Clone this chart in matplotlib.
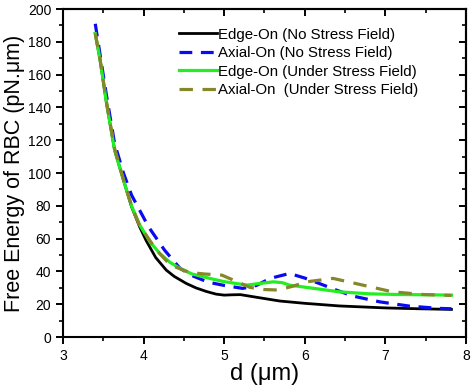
import matplotlib
matplotlib.use("Agg")
import matplotlib.pyplot as plt
from matplotlib.ticker import MultipleLocator

plt.rcParams['font.family'] = ['Liberation Sans', 'DejaVu Sans']

# Edge-On (No Stress Field)
x_edge = [3.40, 3.46, 3.54, 3.64, 3.75, 3.85, 3.95, 4.03, 4.15, 4.28, 4.38, 4.53, 4.65, 4.78,
          4.90, 5.00, 5.10, 5.20, 5.40, 5.69, 6.00, 6.43, 7.00, 7.40, 7.82]
y_edge = [185, 169, 142.5, 114, 95.7, 79.5, 67.3, 59, 48.5, 40.9, 37, 32.7, 30, 27.8,
          26.2, 25.6, 25.8, 25.9, 24.3, 22.0, 20.6, 19.0, 17.8, 17.3, 16.9]

# Axial-On (No Stress Field)
x_axial = [3.40, 3.46, 3.54, 3.64, 3.75, 3.85, 4.06, 4.26, 4.45, 4.60, 4.80, 5.00, 5.23, 5.40,
           5.57, 5.81, 6.00, 6.18, 6.40, 6.60, 6.93, 7.30, 7.67, 7.82]
y_axial = [191, 172, 147, 118, 100, 86.6, 67.3, 53, 42, 37.5, 33.5, 31.5, 29.7, 31.5,
           35.8, 38.8, 36, 32.7, 28.5, 25, 21.5, 18.9, 17.5, 17.3]

# Edge-On (Under Stress Field)
x_edge_s = [3.40, 3.46, 3.54, 3.64, 3.75, 3.85, 3.95, 4.08, 4.20, 4.33, 4.45, 4.60, 4.82, 5.00,
            5.28, 5.44, 5.61, 5.72, 5.81, 6.10, 6.43, 6.80, 7.13, 7.50, 7.82]
y_edge_s = [185, 169, 142.5, 114, 95.7, 80, 68.5, 58, 51, 45.5, 41.9, 38.5, 35.8, 33.8,
            31.7, 32.7, 33.7, 33.2, 31.7, 29.8, 27.6, 26.4, 26, 25.8, 25.6]

# Axial-On (Under Stress Field)
x_axial_s = [3.40, 3.46, 3.54, 3.64, 3.75, 3.85, 3.95, 4.16, 4.33, 4.57, 4.75, 4.97, 5.15, 5.32,
             5.50, 5.67, 5.85, 6.02, 6.35, 6.72, 7.09, 7.46, 7.82]
y_axial_s = [185, 169, 143, 115, 96, 80, 68, 53, 44, 39.4, 38.5, 37.8, 34, 30.3,
             29, 28.7, 31, 33.7, 35.8, 31.7, 27.6, 26, 25.4]

labels = ['Edge-On (No Stress Field)', 'Axial-On (No Stress Field)',
          'Edge-On (Under Stress Field)', 'Axial-On  (Under Stress Field)']

fig = plt.figure(figsize=(4.74, 3.92), dpi=100)
ax = fig.add_axes([0.133, 0.140, 0.850, 0.837])

ax.plot(x_edge, y_edge, color='black', lw=2.0, label=labels[0])
ax.plot(x_axial, y_axial, color='#0a0af0', lw=2.3, dashes=(4, 2.7), label=labels[1])
ax.plot(x_edge_s, y_edge_s, color='#22ee22', lw=2.3, label=labels[2])
ax.plot(x_axial_s, y_axial_s, color='#86862a', lw=2.3, dashes=(4.2, 3), label=labels[3])

ax.set_xlim(3, 8)
ax.set_ylim(0, 200)
ax.xaxis.set_major_locator(MultipleLocator(1))
ax.xaxis.set_minor_locator(MultipleLocator(0.5))
ax.yaxis.set_major_locator(MultipleLocator(20))
ax.yaxis.set_minor_locator(MultipleLocator(10))
ax.tick_params(which='major', direction='out', length=5, width=1.4, labelsize=10)
ax.tick_params(which='minor', direction='out', length=3, width=1.2)

# mirrored ticks on top and right point inward
top = ax.secondary_xaxis('top')
top.xaxis.set_major_locator(MultipleLocator(1))
top.xaxis.set_minor_locator(MultipleLocator(0.5))
top.tick_params(which='major', direction='in', length=5, width=1.4, labeltop=False)
top.tick_params(which='minor', direction='in', length=3, width=1.2)
right = ax.secondary_yaxis('right')
right.yaxis.set_major_locator(MultipleLocator(20))
right.yaxis.set_minor_locator(MultipleLocator(10))
right.tick_params(which='major', direction='in', length=5, width=1.4, labelright=False)
right.tick_params(which='minor', direction='in', length=3, width=1.2)

for s in ax.spines.values():
    s.set_linewidth(1.5)
top.spines['top'].set_linewidth(1.5)
right.spines['right'].set_linewidth(1.5)

ax.set_xlabel('d (\u03bcm)', fontsize=17, labelpad=0)
ax.set_ylabel('Free Energy of RBC (pN.\u03bcm)', fontsize=15.5, labelpad=2)

ax.legend(loc='upper left', bbox_to_anchor=(0.365, 0.945), bbox_transform=fig.transFigure,
          frameon=False, fontsize=10.8, handlelength=2.5, handletextpad=0.1,
          labelspacing=0.3, borderaxespad=0)

fig.savefig('out.png', dpi=100)
